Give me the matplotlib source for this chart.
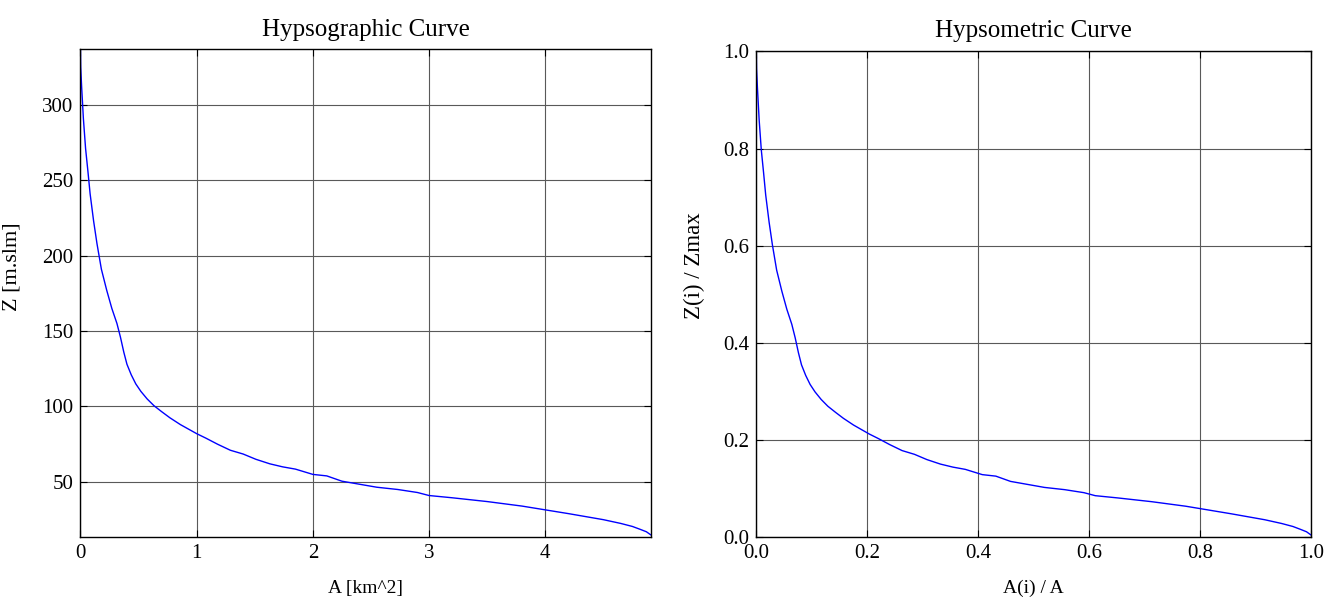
import numpy as np
import matplotlib
matplotlib.use("Agg")
import matplotlib.pyplot as plt

# area above each elevation (km^2) and elevation (m s.l.m.)
area = [0, 0.002, 0.01, 0.025, 0.044, 0.064, 0.083, 0.113, 0.142, 0.18,
        0.226, 0.27, 0.314, 0.344, 0.373, 0.40, 0.437, 0.476, 0.52, 0.574,
        0.633, 0.70, 0.77, 0.86, 0.93, 1.0, 1.08, 1.18, 1.29, 1.40,
        1.51, 1.63, 1.74, 1.85, 2.0, 2.12, 2.25, 2.4, 2.55, 2.73,
        2.9, 3.0, 3.2, 3.5, 3.8, 4.0, 4.2, 4.5, 4.65, 4.75,
        4.82, 4.87, 4.907]
elev = [336.6, 325, 312, 291, 271, 256, 241, 223, 208, 191,
        177, 165, 155, 146, 136, 128, 121, 115, 110, 105,
        100.5, 96.5, 92.5, 88, 85, 82, 79, 75, 71, 68.5,
        65, 62, 60, 58.5, 55, 54, 50.5, 48.5, 46.5, 45,
        43, 41, 39.5, 37, 34, 31.5, 29, 25, 22.5, 20.5,
        18.5, 17, 15]

area = np.array(area)
elev = np.array(elev)

# normalised curve
a_rel = area / area.max()
z_rel = (elev - 13.2) / (elev.max() - 13.2)

plt.rcParams['font.family'] = ['Liberation Serif', 'DejaVu Serif']
plt.rcParams['xtick.direction'] = 'in'
plt.rcParams['ytick.direction'] = 'in'
plt.rcParams['xtick.top'] = True
plt.rcParams['ytick.right'] = True

fig = plt.figure(figsize=(13.41, 6.01), dpi=100)
ax1 = fig.add_axes([0.060, 0.1057, 0.4252, 0.812])
ax2 = fig.add_axes([0.564, 0.1057, 0.4134, 0.809])

ax1.plot(area, elev, color='b', lw=1.0)
ax1.set_xlim(0, 4.907)
ax1.set_ylim(13.2, 336.6)
ax1.set_xticks([0, 1, 2, 3, 4])
ax1.set_yticks([50, 100, 150, 200, 250, 300])
ax1.set_title('Hypsographic Curve', fontsize=18, pad=10)
ax1.set_xlabel('A [km^2]', fontsize=14, labelpad=12)
ax1.set_ylabel('Z [m.slm]', fontsize=16)
ax1.yaxis.set_label_coords(-0.103, 0.554)

ax2.plot(a_rel, z_rel, color='b', lw=1.0)
ax2.set_xlim(0, 1)
ax2.set_ylim(0, 1)
ax2.set_xticks(np.arange(0, 1.01, 0.2))
ax2.set_yticks(np.arange(0, 1.01, 0.2))
ax2.set_title('Hypsometric Curve', fontsize=18, pad=10)
ax2.set_xlabel('A(i) / A', fontsize=14, labelpad=12)
ax2.set_ylabel('Z(i) / Zmax', fontsize=16.5)
ax2.yaxis.set_label_coords(-0.0925, 0.559)

for ax in (ax1, ax2):
    ax.grid(True, color='0.35', lw=0.8)
    ax.tick_params(labelsize=15, length=5, width=0.8, pad=5)
    for s in ax.spines.values():
        s.set_linewidth(1.0)

fig.savefig('out.png', dpi=100)
